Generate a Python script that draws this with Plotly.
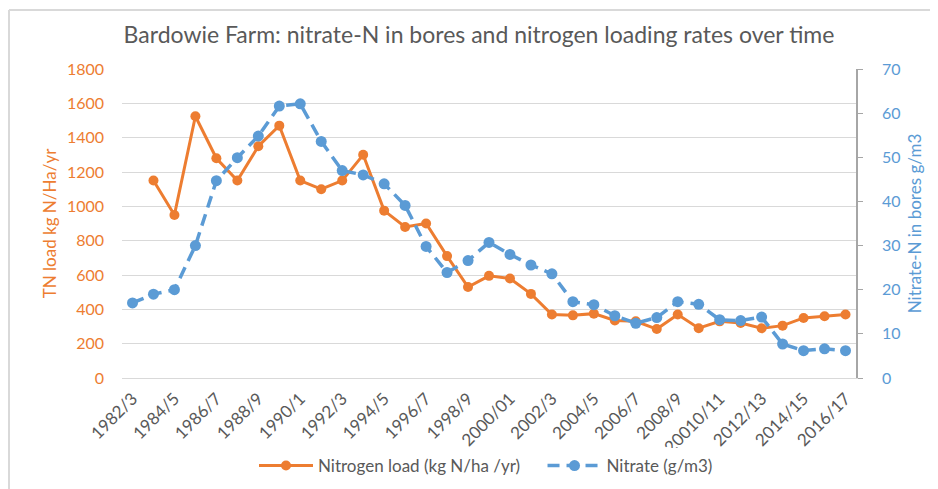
import plotly.graph_objects as go

years = ["1982/3", "1983/4", "1984/5", "1985/6", "1986/7", "1987/8", "1988/9", "1989/90",
         "1990/1", "1991/2", "1992/3", "1993/4", "1994/5", "1995/6", "1996/7", "1997/8",
         "1998/9", "1999/00", "2000/01", "2001/02", "2002/3", "2003/4", "2004/5", "2005/6",
         "2006/7", "2007/8", "2008/9", "2009/10", "20010/11", "2011/12", "2012/13", "2013/14",
         "2014/15", "2015/16", "2016/17"]

nitrogen_load = [None, 1150, 950, 1525, 1280, 1150, 1350, 1470, 1150, 1100, 1150, 1300,
                 975, 880, 900, 710, 530, 595, 580, 490, 370, 365, 375, 335, 330, 285,
                 370, 290, 330, 320, 290, 305, 350, 360, 370]

nitrate = [17.0, 19.0, 20.0, 30.0, 44.7, 49.9, 54.8, 61.6, 62.1, 53.6, 47.0, 46.0, 44.0,
           39.1, 29.8, 23.9, 26.6, 30.7, 28.0, 25.6, 23.6, 17.3, 16.6, 14.1, 12.4, 13.7,
           17.3, 16.7, 13.2, 13.0, 13.8, 7.7, 6.2, 6.6, 6.2]

tick_labels = years[::2]

ORANGE = "#ED7D31"
BLUE = "#5B9BD5"
GRAY = "#595959"
FONT = "Lato"

# page body adds an 8px offset, so the figure is drawn 8px smaller/shifted
W, H = 930, 481
ML, MT = 114, 61
PW, PH = 734, 309

fig = go.Figure()
fig.add_trace(go.Scatter(
    x=years, y=nitrogen_load, name="Nitrogen load (kg N/ha /yr)" + "\u00a0" * 4,
    mode="lines+markers", line=dict(color=ORANGE, width=3),
    marker=dict(color=ORANGE, size=10), connectgaps=False, yaxis="y"))
fig.add_trace(go.Scatter(
    x=years, y=nitrate, name="Nitrate (g/m3)",
    mode="lines+markers", line=dict(color=BLUE, width=3.5, dash="12px,7px"),
    marker=dict(color=BLUE, size=11), yaxis="y2"))

fig.update_layout(
    width=W, height=H,
    margin=dict(l=ML, r=W - ML - PW, t=MT, b=H - MT - PH, autoexpand=False),
    paper_bgcolor="white", plot_bgcolor="white",
    font=dict(family=FONT, color=GRAY),
    title=dict(text="Bardowie Farm: nitrate-N in bores and nitrogen loading rates over time",
               x=(479 - 8) / W, xanchor="center", y=1 - 27 / H, yanchor="middle",
               font=dict(family=FONT, size=23, color=GRAY)),
    xaxis=dict(type="category", categoryorder="array", categoryarray=years,
               range=[-0.5, len(years) - 0.5], automargin=False,
               tickmode="array", tickvals=tick_labels, ticktext=tick_labels,
               tickangle=-45, tickfont=dict(size=17, color=GRAY),
               showgrid=False, showline=True, linecolor="#D9D9D9", linewidth=1,
               zeroline=False, ticks="", ticklabelstandoff=3),
    yaxis=dict(range=[0, 1800], dtick=200, tickfont=dict(size=16, color=ORANGE),
               automargin=False,
               title=dict(text="TN load kg N/Ha/yr", font=dict(size=17, color=ORANGE), standoff=5),
               showgrid=True, gridcolor="#D9D9D9", gridwidth=1, zeroline=False,
               showline=False, ticklabelstandoff=17),
    yaxis2=dict(range=[0, 70], dtick=10, overlaying="y", side="right",
                automargin=False,
                tickfont=dict(size=16, color=BLUE),
                title=dict(text="Nitrate-N in bores g/m3", font=dict(size=17, color=BLUE), standoff=10),
                showgrid=False, zeroline=False, showline=True, linecolor="#A6A6A6",
                linewidth=1.5, ticks="outside", ticklen=5, tickcolor="#A6A6A6",
                ticklabelstandoff=16),
    legend=dict(orientation="h", x=(485 - 8 + 1 - ML) / PW, xanchor="center",
                y=-(466 - 8 - MT - PH) / PH, yanchor="middle",
                font=dict(size=17, color=GRAY), itemwidth=54, tracegroupgap=0),
    showlegend=True,
)

# chart frame (left and top borders)
fl = (1 - ML) / PW
ft = 1 + (MT - 2) / PH
fig.add_shape(type="line", xref="paper", yref="paper", x0=fl, x1=fl, y0=ft, y1=-0.6,
              line=dict(color="#D9D9D9", width=2))
fig.add_shape(type="line", xref="paper", yref="paper", x0=fl, x1=1.2, y0=ft, y1=ft,
              line=dict(color="#D9D9D9", width=2))

fig.write_html("out.html")
